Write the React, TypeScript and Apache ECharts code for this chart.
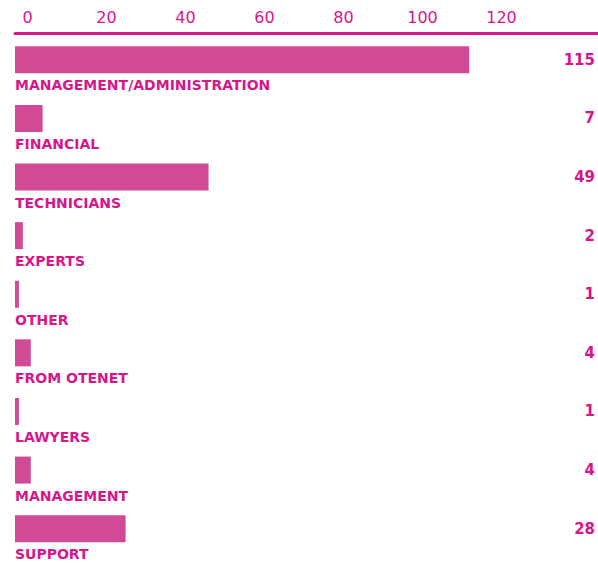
import React, { useEffect, useRef } from "react";
import * as echarts from "echarts";

const categories = [
  "MANAGEMENT/ADMINISTRATION",
  "FINANCIAL",
  "TECHNICIANS",
  "EXPERTS",
  "OTHER",
  "FROM OTENET",
  "LAWYERS",
  "MANAGEMENT",
  "SUPPORT",
];
const values = [115, 7, 49, 2, 1, 4, 1, 4, 28];
const tickLimit = 120;

const BAR = "#d04a96";
const TEXT = "#d6168b";

export default function App() {
  const ref = useRef<HTMLDivElement>(null);
  useEffect(() => {
    document.body.style.margin = "0";
    const chart = echarts.init(ref.current!, null, { renderer: "svg" });
    chart.setOption({
      animation: false,
      grid: { left: 15, right: 0, top: 30.5, bottom: 10, containLabel: false },
      xAxis: {
        type: "value",
        position: "top",
        min: 0,
        max: 147.6,
        interval: 20,
        offset: -3,
        axisLine: { show: true, lineStyle: { color: TEXT, width: 3 } },
        axisTick: { show: false },
        splitLine: { show: false },
        axisLabel: {
          color: TEXT,
          fontFamily: "DejaVu Sans",
          fontSize: 16,
          margin: 8,
          padding: [0, 0, 0, 25],
          showMaxLabel: false,
          formatter: (v: number) => (v <= tickLimit ? String(v) : ""),
        },
      },
      yAxis: [
        {
          type: "category",
          data: categories,
          inverse: true,
          axisLine: { show: false },
          axisTick: { show: false },
          axisLabel: { show: false },
        },
        {
          type: "category",
          data: values.map(String),
          inverse: true,
          position: "right",
          axisLine: { show: false },
          axisTick: { show: false },
          axisLabel: {
            inside: true,
            margin: 3,
            color: TEXT,
            fontFamily: "DejaVu Sans",
            fontWeight: "bold",
            fontSize: 15,
          },
        },
      ],
      series: [
        {
          type: "bar",
          data: values,
          yAxisIndex: 0,
          barWidth: 27,
          itemStyle: { color: BAR },
          label: {
            show: true,
            position: [0, 32],
            formatter: "{b}",
            color: TEXT,
            fontFamily: "DejaVu Sans",
            fontWeight: "bold",
            fontSize: 14,
            align: "left",
            verticalAlign: "top",
          },
        },
      ],
    });
    return () => chart.dispose();
  }, []);
  return <div ref={ref} style={{ width: 598, height: 568 }} />;
}
